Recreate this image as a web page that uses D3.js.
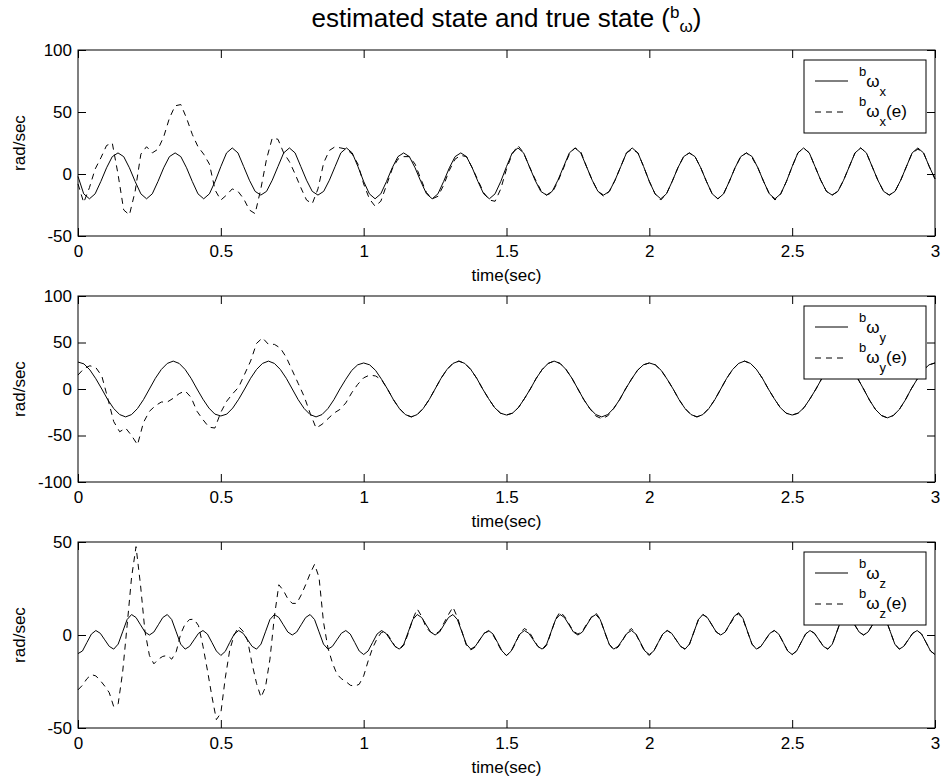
<!DOCTYPE html>
<html>
<head>
<meta charset="utf-8">
<script src="https://cdn.jsdelivr.net/npm/d3@7"></script>
<style>
body{margin:0;background:#fff;}
text{font-family:Arial,"Liberation Sans",Helvetica,sans-serif;fill:#000;}
</style>
</head>
<body>
<script>
//sample steps (sec) of the three recorded signals
var stepX = 0.02,
    stepY = 1 / 48,
    stepZ = 1 / 64;

//tick values
var timeTicks = [0, 0.5, 1, 1.5, 2, 2.5, 3];
var ticksX = [-50, 0, 50, 100],
    ticksY = [-100, -50, 0, 50, 100],
    ticksZ = [-50, 0, 50];

//bωx true and estimated (rad/sec), every 0.02 s
var wxTrue = [
    -2,-16,-20,-16,-6,5,14,17,14,5,
    -6,-16,-20,-16,-6,5,14,17,14,5,
    -6,-16,-20,-16,-6,6,17,21,17,6,
    -5,-14,-17,-14,-5,6,17,21,17,6,
    -5,-14,-17,-14,-5,6,17,21,17,6,
    -6,-16,-20,-16,-6,5,14,17,14,5,
    -6,-16,-20,-16,-6,5,14,17,14,5,
    -6,-16,-20,-16,-6,6,17,21,17,6,
    -5,-14,-17,-14,-5,6,17,21,17,6,
    -5,-14,-17,-14,-5,6,17,21,17,6,
    -6,-16,-20,-16,-6,5,14,17,14,5,
    -6,-16,-20,-16,-6,5,14,17,14,5,
    -6,-16,-20,-16,-6,6,17,21,17,6,
    -5,-14,-17,-14,-5,6,17,21,17,6,
    -5,-14,-17,-14,-5,6,17,21,17,6,
    -4];
var wxEst = [
    -8,-23,-11,4,13,23,25,0,-29,-33,
    -14,16,22,17,20,30,45,55,56,45,
    32,22,16,8,-13,-21,-17,-12,-14,-20,
    -29,-32,-12,12,29,28,17,10,0,-11,
    -21,-24,-12,9,19,22,21,20,16,8,
    -8,-20,-26,-22,-9,4,12,14,14,8,
    -4,-15,-20,-18,-9,3,12,15,14,5,
    -5,-15,-21,-22,-12,4,16,23,17,6,
    -4,-13,-17,-15,-6,5,16,21,18,6,
    -5,-14,-18,-14,-5,6,17,20,17,6,
    -6,-16,-21,-16,-6,5,14,17,14,5,
    -6,-16,-20,-16,-6,5,14,17,13,5,
    -6,-16,-21,-16,-6,6,17,21,17,6,
    -5,-14,-17,-14,-5,6,17,21,17,6,
    -5,-14,-17,-14,-5,6,17,20,17,6,
    -4];

//bωy true and estimated, every 1/48 s
var wyTrue = [
    29,27,20.5,11,0,-11.5,-21,-27.5,-30,-27.5,-21,-11.5,0,11.5,21,27.5,
    30,27.5,21,11.5,0,-11,-20.5,-27,-29,-27,-20.5,-11,0,11.5,21,27.5,
    30,27.5,21,11.5,0,-11.5,-21,-27.5,-30,-27.5,-21,-11.5,0,10.5,20,26,
    28,26,20,10.5,0,-11.5,-21,-27.5,-30,-27.5,-21,-11.5,0,11.5,21,27.5,
    30,27.5,21,11.5,0,-10.5,-20,-26,-28,-26,-20,-10.5,0,11.5,21,27.5,
    30,27.5,21,11.5,0,-11.5,-21,-27.5,-30,-27.5,-21,-11.5,0,10.5,20,26,
    28,26,20,10.5,0,-11.5,-21,-27.5,-30,-27.5,-21,-11.5,0,11.5,21,27.5,
    30,27.5,21,11.5,0,-10.5,-20,-26,-28,-26,-20,-10.5,0,11.5,21,27.5,
    30,27.5,21,11.5,0,-12,-22,-28.5,-31,-28.5,-22,-12,0,10.5,20,26,
    28];
var wyEst = [
    15,22,25,23,14,-10,-35,-46,-42,-50,-60,-36,-24,-18,-14,-14,
    -10,-5,-2,-9,-24,-33,-41,-42,-25,-13,-5,2,16,30,49,55,
    48,48,44,34,20,6,-8,-26,-42,-38,-32,-26,-22,-15,-4,5,
    12,15,14,10,0,-11.5,-21,-27.5,-30,-27.5,-21,-11.5,0,11.5,21,27.5,
    30,27.5,21,11.5,0,-10.5,-20,-26,-28,-26,-20,-10.5,0,11.5,21,27.5,
    30,27.5,21,11.5,0,-11.5,-21,-29,-32,-29,-21,-11.5,0,10.5,20,26,
    28,26,20,10.5,0,-11.5,-21,-27.5,-30,-27.5,-21,-11.5,0,11.5,21,27.5,
    30,27.5,21,11.5,0,-10.5,-20,-26,-28,-26,-20,-10.5,0,11.5,21,27.5,
    30,27.5,21,11.5,0,-12,-22,-28.5,-31,-28.5,-22,-12,0,10.5,20,26,
    28];

//bωz true and estimated, every 1/64 s
var wzTrue = [
    -10,-8.6,-4,0.5,2.4,0.9,-2.6,-6.1,-7.6,-4.9,1.7,8.3,11,9.4,5.5,1.6,0,1.6,5.5,9.4,11,8.3,1.7,-4.9,-7.6,-6.1,-2.6,0.9,2.4,0.5,-4,-8.6,
    -11,-8.8,-4,0.5,2.4,0.9,-2.6,-6.1,-7.6,-4.9,1.7,8.3,11,9.4,5.5,1.6,0,1.6,5.5,9.4,11,8.3,1.7,-4.9,-7.6,-6.1,-2.6,0.9,2.4,0.5,-4,-8.6,
    -10.5,-8.6,-4,0.5,2.4,0.9,-2.6,-6.1,-7.6,-4.9,1.7,8.3,11,9.4,5.5,1.6,0,1.6,5.5,9.4,11,8.3,1.7,-4.9,-7.6,-6.1,-2.6,0.9,2.4,0.5,-4,-8.6,
    -11,-8.8,-4,0.5,2.4,0.9,-2.6,-6.1,-7.6,-4.9,1.7,8.3,11,9.4,5.5,1.6,0,1.6,5.5,9.4,11,8.3,1.7,-4.9,-7.6,-6.1,-2.6,0.9,2.4,0.5,-4,-8.6,
    -10.5,-8.6,-4,0.5,2.4,0.9,-2.6,-6.1,-7.6,-4.9,1.7,8.3,11,9.4,5.5,1.6,0,1.6,5.8,10,12,8.8,1.9,-4.9,-7.6,-6.1,-2.6,0.9,2.4,0.5,-4,-8.6,
    -10.5,-8.6,-4,0.5,2.4,0.9,-2.6,-6.1,-7.6,-4.9,1.7,8.3,11,9.4,5.5,1.6,0,1.6,5.5,9.4,11,8.3,1.7,-4.9,-7.6,-6.1,-2.6,0.9,2.4,0.5,-4,-8.6,
    -10.5];
var wzEst = [
    -29.5,-27,-23.5,-21.3,-22,-24.5,-27.5,-31,-38.5,-37,-20,5,31,47.5,27,2,-11,-15.5,-13,-11.5,-11,-13,-9,0.5,6,8.3,8.5,5,-6,-19,-33,-45.5,
    -42,-23,-8,0,4.5,2,-3,-15.5,-26,-33.5,-28,-13,10,27,24,19.5,17,17,21.5,27,33,38,31,7,-7,-15,-21,-23.5,-25,-27,-27.5,-26.5,
    -22,-14,-7,-2,1.5,1.5,-2,-6,-7.8,-5.5,1,8.5,14,10,4,1.5,0.5,2,6.5,11,15,9.5,2,-5.5,-8,-6.5,-2.5,1,2,0,-4.5,-9,
    -11,-9,-4.5,1,3.5,2,-2,-6,-8,-5.5,1.5,8.5,12.5,10,6,2,0.5,2,6,9.5,12,8.5,1.5,-5,-8,-6.5,-3,1.5,3.5,0.5,-4.5,-9,
    -11,-8.6,-4,0.5,2.4,0.9,-2.6,-6.1,-7.6,-4.9,1.7,8.3,11,9.4,5.5,1.6,0,1.6,5.5,9.4,11.5,8.3,1.7,-4.9,-7.6,-6.1,-2.6,0.9,2.4,0.5,-4,-8.6,
    -10.5,-8.6,-4,0.5,2.4,0.9,-2.6,-6.1,-7.6,-4.9,1.7,8.3,11,9.4,5.5,1.6,0,1.6,5.5,9.4,11,8.3,1.7,-4.9,-7.6,-6.1,-2.6,0.9,2.4,0.5,-4,-8.6,
    -10.5];

setChart();

function setChart(){

    //svg frame dimensions
    var width = 946,
        height = 781;

    var svg = d3.select("body")
        .append("svg")
        .attr("width", width)
        .attr("height", height)
        .style("background", "#fff");

    //shared time scale
    var x = d3.scaleLinear()
        .domain([0, 3])
        .range([78, 935]);

    var panels = [
        {top: 50, domain: [-50, 100], ticks: ticksX, solid: wxTrue, dashed: wxEst, step: stepX, sub: "x"},
        {top: 296, domain: [-100, 100], ticks: ticksY, solid: wyTrue, dashed: wyEst, step: stepY, sub: "y"},
        {top: 542, domain: [-50, 50], ticks: ticksZ, solid: wzTrue, dashed: wzEst, step: stepZ, sub: "z"}
    ];
    var plotH = 186;

    //title, relative shifts keep it one centred chunk
    var title = svg.append("text")
        .attr("x", (x.range()[0] + x.range()[1]) / 2)
        .attr("y", 27)
        .attr("text-anchor", "middle")
        .style("font-size", "26px")
        .text("estimated state and true state (");
    title.append("tspan").attr("dy", -9).style("font-size", "17px").text("b");
    title.append("tspan").attr("dy", 14).style("font-size", "17px").text("\u03c9");
    title.append("tspan").attr("dy", -5).style("font-size", "26px").text(")");

    panels.forEach(function(p){

        var bottom = p.top + plotH;
        var y = d3.scaleLinear()
            .domain(p.domain)
            .range([bottom, p.top]);

        var g = svg.append("g");

        //data lines
        var line = d3.line()
            .x(function(d, i){ return x(i * p.step); })
            .y(function(d){ return y(d); });

        g.append("path")
            .datum(p.solid)
            .attr("d", line)
            .attr("fill", "none")
            .attr("stroke", "#000")
            .attr("stroke-width", 1);

        g.append("path")
            .datum(p.dashed)
            .attr("d", line)
            .attr("fill", "none")
            .attr("stroke", "#000")
            .attr("stroke-width", 1)
            .attr("stroke-dasharray", "6,5");

        //axes with inward ticks on all four sides
        var fmt = function(d){ return String(d); };
        var axes = [
            {gen: d3.axisBottom(x).tickValues(timeTicks).tickFormat(fmt).tickPadding(9), tr: "translate(0," + bottom + ")"},
            {gen: d3.axisTop(x).tickValues(timeTicks).tickFormat(""), tr: "translate(0," + p.top + ")"},
            {gen: d3.axisLeft(y).tickValues(p.ticks).tickFormat(fmt).tickPadding(6), tr: "translate(" + x.range()[0] + ",0)"},
            {gen: d3.axisRight(y).tickValues(p.ticks).tickFormat(""), tr: "translate(" + x.range()[1] + ",0)"}
        ];
        axes.forEach(function(a){
            var ag = g.append("g")
                .attr("transform", a.tr)
                .call(a.gen.tickSize(-8).tickSizeOuter(0));
            ag.select(".domain").remove();
            ag.selectAll(".tick line").attr("stroke", "#000");
            ag.selectAll(".tick text")
                .style("font-size", "17px")
                .style("font-family", "Arial, 'Liberation Sans', sans-serif")
                .attr("fill", "#000");
        });

        //axes box
        g.append("rect")
            .attr("x", x.range()[0])
            .attr("y", p.top)
            .attr("width", x.range()[1] - x.range()[0])
            .attr("height", plotH)
            .attr("fill", "none")
            .attr("stroke", "#000")
            .attr("stroke-width", 1);

        //axis labels
        g.append("text")
            .attr("x", (x.range()[0] + x.range()[1]) / 2)
            .attr("y", bottom + 45)
            .attr("text-anchor", "middle")
            .style("font-size", "17px")
            .text("time(sec)");

        g.append("text")
            .attr("transform", "translate(25," + (p.top + plotH / 2) + ") rotate(-90)")
            .attr("text-anchor", "middle")
            .style("font-size", "17px")
            .text("rad/sec");

        //legend
        var lg = g.append("g")
            .attr("transform", "translate(804," + (p.top + 10) + ")");
        lg.append("rect")
            .attr("width", 122)
            .attr("height", 73)
            .attr("fill", "#fff")
            .attr("stroke", "#000")
            .attr("stroke-width", 1);
        lg.append("line")
            .attr("x1", 11).attr("x2", 44)
            .attr("y1", 21).attr("y2", 21)
            .attr("stroke", "#000");
        lg.append("line")
            .attr("x1", 11).attr("x2", 44)
            .attr("y1", 52).attr("y2", 52)
            .attr("stroke", "#000")
            .attr("stroke-dasharray", "6,5");

        var t1 = lg.append("text").attr("x", 55).attr("y", 16);
        t1.append("tspan").style("font-size", "13px").text("b");
        t1.append("tspan").attr("dy", 11).style("font-size", "17px").text("\u03c9");
        t1.append("tspan").attr("dy", 9).style("font-size", "13px").text(p.sub);

        var t2 = lg.append("text").attr("x", 55).attr("y", 46);
        t2.append("tspan").style("font-size", "13px").text("b");
        t2.append("tspan").attr("dy", 11).style("font-size", "17px").text("\u03c9");
        t2.append("tspan").attr("dy", 9).style("font-size", "13px").text(p.sub);
        t2.append("tspan").attr("dy", -9).style("font-size", "17px").text("(e)");
    });
};
</script>
</body>
</html>
